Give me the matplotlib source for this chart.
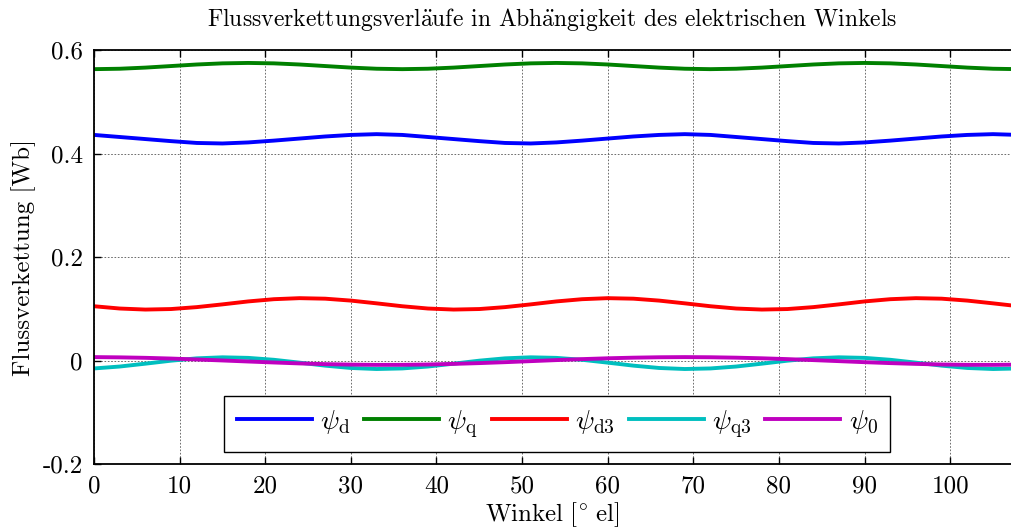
import matplotlib.pyplot as plt

plt.rcParams['font.family'] = ['cmr10', 'DejaVu Serif']
plt.rcParams['mathtext.fontset'] = 'cm'
plt.rcParams['axes.unicode_minus'] = False

# Winkel in Grad elektrisch, Schrittweite 3
winkel = list(range(0, 109, 3))

psi_d = [0.4360, 0.4320, 0.4280, 0.4240, 0.4205, 0.4195, 0.4215, 0.4250, 0.4290, 0.4330, 0.4360, 0.4375,
         0.4360, 0.4320, 0.4280, 0.4240, 0.4205, 0.4195, 0.4215, 0.4250, 0.4290, 0.4330, 0.4360, 0.4375,
         0.4360, 0.4320, 0.4280, 0.4240, 0.4205, 0.4195, 0.4215, 0.4250, 0.4290, 0.4330, 0.4360, 0.4375,
         0.4360]
psi_q = [0.5630, 0.5638, 0.5660, 0.5690, 0.5720, 0.5742, 0.5750, 0.5742, 0.5720, 0.5690, 0.5660, 0.5638,
         0.5630, 0.5638, 0.5660, 0.5690, 0.5720, 0.5742, 0.5750, 0.5742, 0.5720, 0.5690, 0.5660, 0.5638,
         0.5630, 0.5638, 0.5660, 0.5690, 0.5720, 0.5742, 0.5750, 0.5742, 0.5720, 0.5690, 0.5660, 0.5638,
         0.5630]
psi_d3 = [0.1052, 0.1008, 0.0988, 0.0998, 0.1035, 0.1088, 0.1145, 0.1188, 0.1208, 0.1198, 0.1161, 0.1108,
          0.1052, 0.1008, 0.0988, 0.0998, 0.1035, 0.1088, 0.1145, 0.1188, 0.1208, 0.1198, 0.1161, 0.1108,
          0.1052, 0.1008, 0.0988, 0.0998, 0.1035, 0.1088, 0.1145, 0.1188, 0.1208, 0.1198, 0.1161, 0.1108,
          0.1052]
psi_q3 = [-0.0149, -0.0112, -0.0057, 0.0001, 0.0046, 0.0066, 0.0055, 0.0018, -0.0037, -0.0095, -0.0140, -0.0160,
          -0.0149, -0.0112, -0.0057, 0.0001, 0.0046, 0.0066, 0.0055, 0.0018, -0.0037, -0.0095, -0.0140, -0.0160,
          -0.0149, -0.0112, -0.0057, 0.0001, 0.0046, 0.0066, 0.0055, 0.0018, -0.0037, -0.0095, -0.0140, -0.0160,
          -0.0149]
psi_0 = [0.0070, 0.0065, 0.0056, 0.0042, 0.0024, 0.0005, -0.0015, -0.0034, -0.0052, -0.0066, -0.0075, -0.0080,
         -0.0079, -0.0073, -0.0061, -0.0046, -0.0028, -0.0008, 0.0012, 0.0031, 0.0047, 0.0059, 0.0067, 0.0070,
         0.0067, 0.0059, 0.0047, 0.0031, 0.0012, -0.0008, -0.0028, -0.0046, -0.0061, -0.0073, -0.0079, -0.0080,
         -0.0075]

x_ticks = [0, 10, 20, 30, 40, 50, 60, 70, 80, 90, 100]
y_ticks = [-0.2, 0, 0.2, 0.4, 0.6]
y_ticklabels = ['-0.2', '0', '0.2', '0.4', '0.6']

fig = plt.figure(figsize=(10.11, 5.29), dpi=100)
ax = fig.add_axes([0.093, 0.1223, 0.907, 0.7832])

lw = 2.8
ax.plot(winkel, psi_d, color=(0, 0, 1), lw=lw, label=r'$\psi_\mathrm{d}$')
ax.plot(winkel, psi_q, color=(0, 0.5, 0), lw=lw, label=r'$\psi_\mathrm{q}$')
ax.plot(winkel, psi_d3, color=(1, 0, 0), lw=lw, label=r'$\psi_\mathrm{d3}$')
ax.plot(winkel, psi_q3, color=(0, 0.75, 0.75), lw=lw, label=r'$\psi_\mathrm{q3}$')
ax.plot(winkel, psi_0, color=(0.75, 0, 0.75), lw=lw, label=r'$\psi_0$')

ax.set_xlim(0, 107.1)
ax.set_ylim(-0.2, 0.6)
ax.set_xticks(x_ticks)
ax.set_yticks(y_ticks)
ax.set_yticklabels(y_ticklabels)
ax.tick_params(direction='in', top=True, right=False, labelsize=18, length=5, width=1, pad=8)
ax.grid(True, linestyle=(0, (2, 2)), color='#555555', linewidth=0.6)
for side in ['top', 'bottom', 'left']:
    ax.spines[side].set_linewidth(1.3)
ax.spines['right'].set_visible(False)

ax.set_title(r'Flussverkettungsverl$\mathrm{\ddot{a}}$ufe in Abh$\mathrm{\ddot{a}}$ngigkeit des elektrischen Winkels',
             fontsize=17, pad=17)
ax.set_xlabel(r'$\mathrm{Winkel\ [^{\circ}\ el]}$', fontsize=18, labelpad=2)
ax.set_ylabel('Flussverkettung [Wb]', fontsize=18, labelpad=5)

leg = ax.legend(loc='lower center', bbox_to_anchor=(0.505, 0.029), borderaxespad=0, ncol=5, fontsize=20,
                handlelength=2.7, columnspacing=0.5, handletextpad=0.3, borderpad=0.45,
                fancybox=False, framealpha=1, edgecolor='black')
leg.get_frame().set_linewidth(1.0)

fig.savefig('out.png', dpi=100)
